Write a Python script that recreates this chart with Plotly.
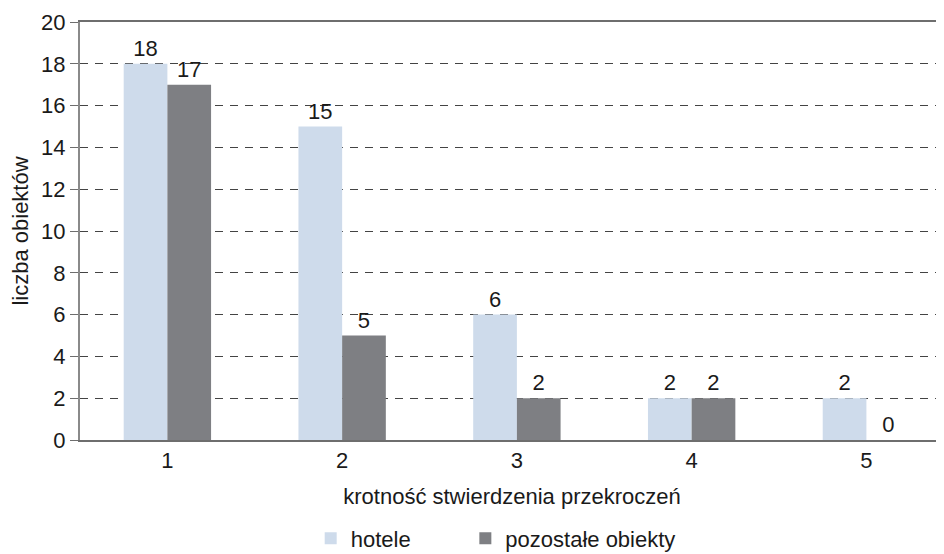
import plotly.graph_objects as go

categories = [1, 2, 3, 4, 5]
hotele = [18, 15, 6, 2, 2]
pozostale = [17, 5, 2, 2, 0]
series_names = ["hotele", "pozostałe obiekty"]
y_ticks = list(range(0, 21, 2))

FONT = "Liberation Sans, Arial, sans-serif"
FS = 22

fig = go.Figure()
fig.add_trace(go.Bar(
    x=categories, y=hotele, name=series_names[0], legend="legend",
    marker=dict(color="#CEDBEB", line=dict(width=0)),
    text=hotele, textposition="outside", cliponaxis=False,
    textfont=dict(size=FS, color="#1a1a1a", family=FONT),
))
fig.add_trace(go.Bar(
    x=categories, y=pozostale, name=series_names[1], legend="legend2",
    marker=dict(color="#7E7F83", line=dict(width=0)),
    text=pozostale, textposition="outside", cliponaxis=False,
    textfont=dict(size=FS, color="#1a1a1a", family=FONT),
))

leg_common = dict(orientation="h", y=-0.185, yanchor="top", xanchor="left",
                  font=dict(size=FS, family=FONT, color="#1a1a1a"),
                  bgcolor="rgba(0,0,0,0)")

# page body has an 8px default margin: size the figure to fit the 944x554 window
fig.update_layout(
    width=936, height=546,
    margin=dict(l=72, r=0, t=14, b=114, autoexpand=False),
    paper_bgcolor="white", plot_bgcolor="white",
    font=dict(family=FONT, size=FS, color="#1a1a1a"),
    barmode="group", bargap=0.5, bargroupgap=0,
    showlegend=True,
    legend=dict(x=0.267, **leg_common),
    legend2=dict(x=0.446, **leg_common),
)

fig.update_xaxes(
    range=[0.5, 5.444], tickvals=categories, ticktext=[str(c) for c in categories],
    showgrid=False, showline=True, linecolor="#6e6e6e", linewidth=2, mirror=True,
    ticks="", tickfont=dict(size=FS), zeroline=False, automargin=False,
    title=dict(text="krotność stwierdzenia przekroczeń", font=dict(size=FS), standoff=16),
)
fig.update_yaxes(
    range=[0, 20], tickvals=y_ticks,
    showgrid=True, gridcolor="#444444", griddash="8px,7px", gridwidth=1,
    showline=True, linecolor="#8a8a8a", linewidth=2,
    ticks="outside", ticklen=8, tickcolor="#6e6e6e", tickwidth=1,
    tickfont=dict(size=FS), zeroline=False, automargin=False,
    title=dict(text="liczba obiektów", font=dict(size=FS), standoff=12),
)

fig.write_html("out.html")
